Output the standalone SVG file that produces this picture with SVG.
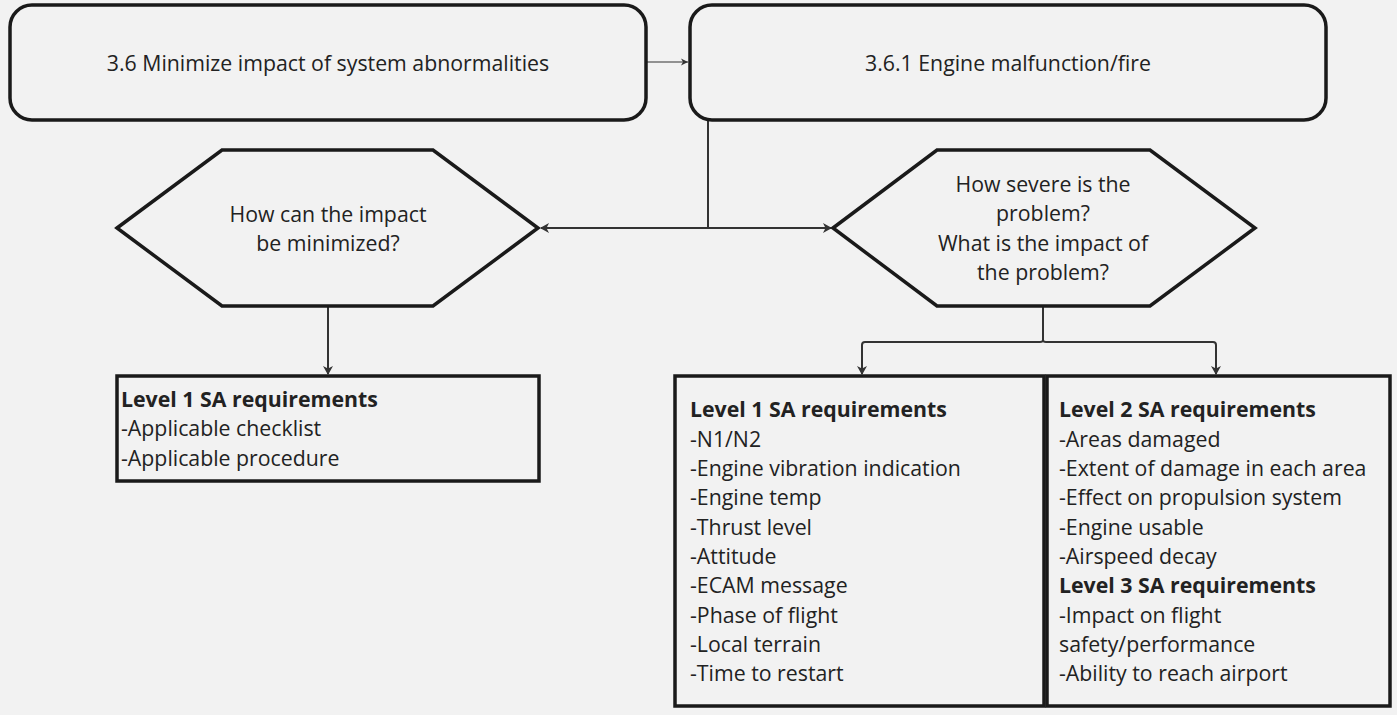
<svg xmlns="http://www.w3.org/2000/svg" width="1397" height="715" viewBox="0 0 1397 715">
<defs>
<style>
text{font-family:"Open Sans","Noto Sans","Liberation Sans",sans-serif;font-size:21.3px;fill:#222}
.b{font-weight:bold}
.c{text-anchor:middle}
.shape{fill:#f2f2f2;stroke:#1a1a1a;stroke-width:3.5}
.con{fill:none;stroke:#333;stroke-width:2}
.thin{fill:none;stroke:#333;stroke-width:1.2}
</style>
<marker id="ah" markerWidth="10" markerHeight="10" refX="8" refY="5" orient="auto" markerUnits="userSpaceOnUse">
<path d="M0,0 L9,5 L0,10 L2.5,5 Z" fill="#333"/>
</marker>
<marker id="ahs" markerWidth="8" markerHeight="8" refX="7" refY="4" orient="auto" markerUnits="userSpaceOnUse">
<path d="M0,0.5 L7,4 L0,7.5 L2,4 Z" fill="#333"/>
</marker>
</defs>
<rect width="1397" height="715" fill="#f2f2f2"/>
<g id="connectors">
<path class="thin" d="M647,62 L688,62" marker-end="url(#ahs)"/>
<path class="con" d="M708,121 L708,228"/>
<path class="con" d="M708,228 L541,228" marker-end="url(#ah)"/>
<path class="con" d="M708,228 L831,228" marker-end="url(#ah)"/>
<path class="con" d="M328,307 L328,374" marker-end="url(#ah)"/>
<path class="con" d="M1043,307 L1043,340"/>
<path class="con" d="M1043,340 Q1043,342 1040,342 L865,342 Q862,342 862,345 L862,374" marker-end="url(#ah)"/>
<path class="con" d="M1043,340 Q1043,342 1046,342 L1213,342 Q1216,342 1216,345 L1216,374" marker-end="url(#ah)"/>
</g>
<g id="n1">
<rect class="shape" x="10" y="5" width="636" height="115" rx="22"/>
<text class="c" x="328" y="71">3.6 Minimize impact of system abnormalities</text>
</g>
<g id="n2">
<rect class="shape" x="690" y="5" width="636" height="115" rx="22"/>
<text class="c" x="1008" y="71">3.6.1 Engine malfunction/fire</text>
</g>
<g id="h1">
<polygon class="shape" points="117,228 222,150 433,150 538,228 433,306 222,306"/>
<text class="c" x="328" y="222">How can the impact</text>
<text class="c" x="328" y="251">be minimized?</text>
</g>
<g id="h2">
<polygon class="shape" points="833,228 937,150 1150,150 1255,228 1150,306 937,306"/>
<text class="c" x="1043" y="192">How severe is the</text>
<text class="c" x="1043" y="221">problem?</text>
<text class="c" x="1043" y="251">What is the impact of</text>
<text class="c" x="1043" y="280">the problem?</text>
</g>
<g id="r1">
<rect class="shape" x="117" y="376" width="422" height="105"/>
<text class="b" x="121" y="407">Level 1 SA requirements</text>
<text x="121" y="436">-Applicable checklist</text>
<text x="121" y="466">-Applicable procedure</text>
</g>
<g id="r2">
<rect class="shape" x="675" y="376" width="369" height="330"/>
<text class="b" x="690" y="417">Level 1 SA requirements</text>
<text x="690" y="447">-N1/N2</text>
<text x="690" y="476">-Engine vibration indication</text>
<text x="690" y="505">-Engine temp</text>
<text x="690" y="535">-Thrust level</text>
<text x="690" y="564">-Attitude</text>
<text x="690" y="593">-ECAM message</text>
<text x="690" y="623">-Phase of flight</text>
<text x="690" y="652">-Local terrain</text>
<text x="690" y="681">-Time to restart</text>
</g>
<g id="r3">
<rect class="shape" x="1047" y="376" width="343" height="330"/>
<text class="b" x="1059" y="417">Level 2 SA requirements</text>
<text x="1059" y="447">-Areas damaged</text>
<text x="1059" y="476">-Extent of damage in each area</text>
<text x="1059" y="505">-Effect on propulsion system</text>
<text x="1059" y="535">-Engine usable</text>
<text x="1059" y="564">-Airspeed decay</text>
<text class="b" x="1059" y="593">Level 3 SA requirements</text>
<text x="1059" y="623">-Impact on flight</text>
<text x="1059" y="652">safety/performance</text>
<text x="1059" y="681">-Ability to reach airport</text>
</g>
</svg>
